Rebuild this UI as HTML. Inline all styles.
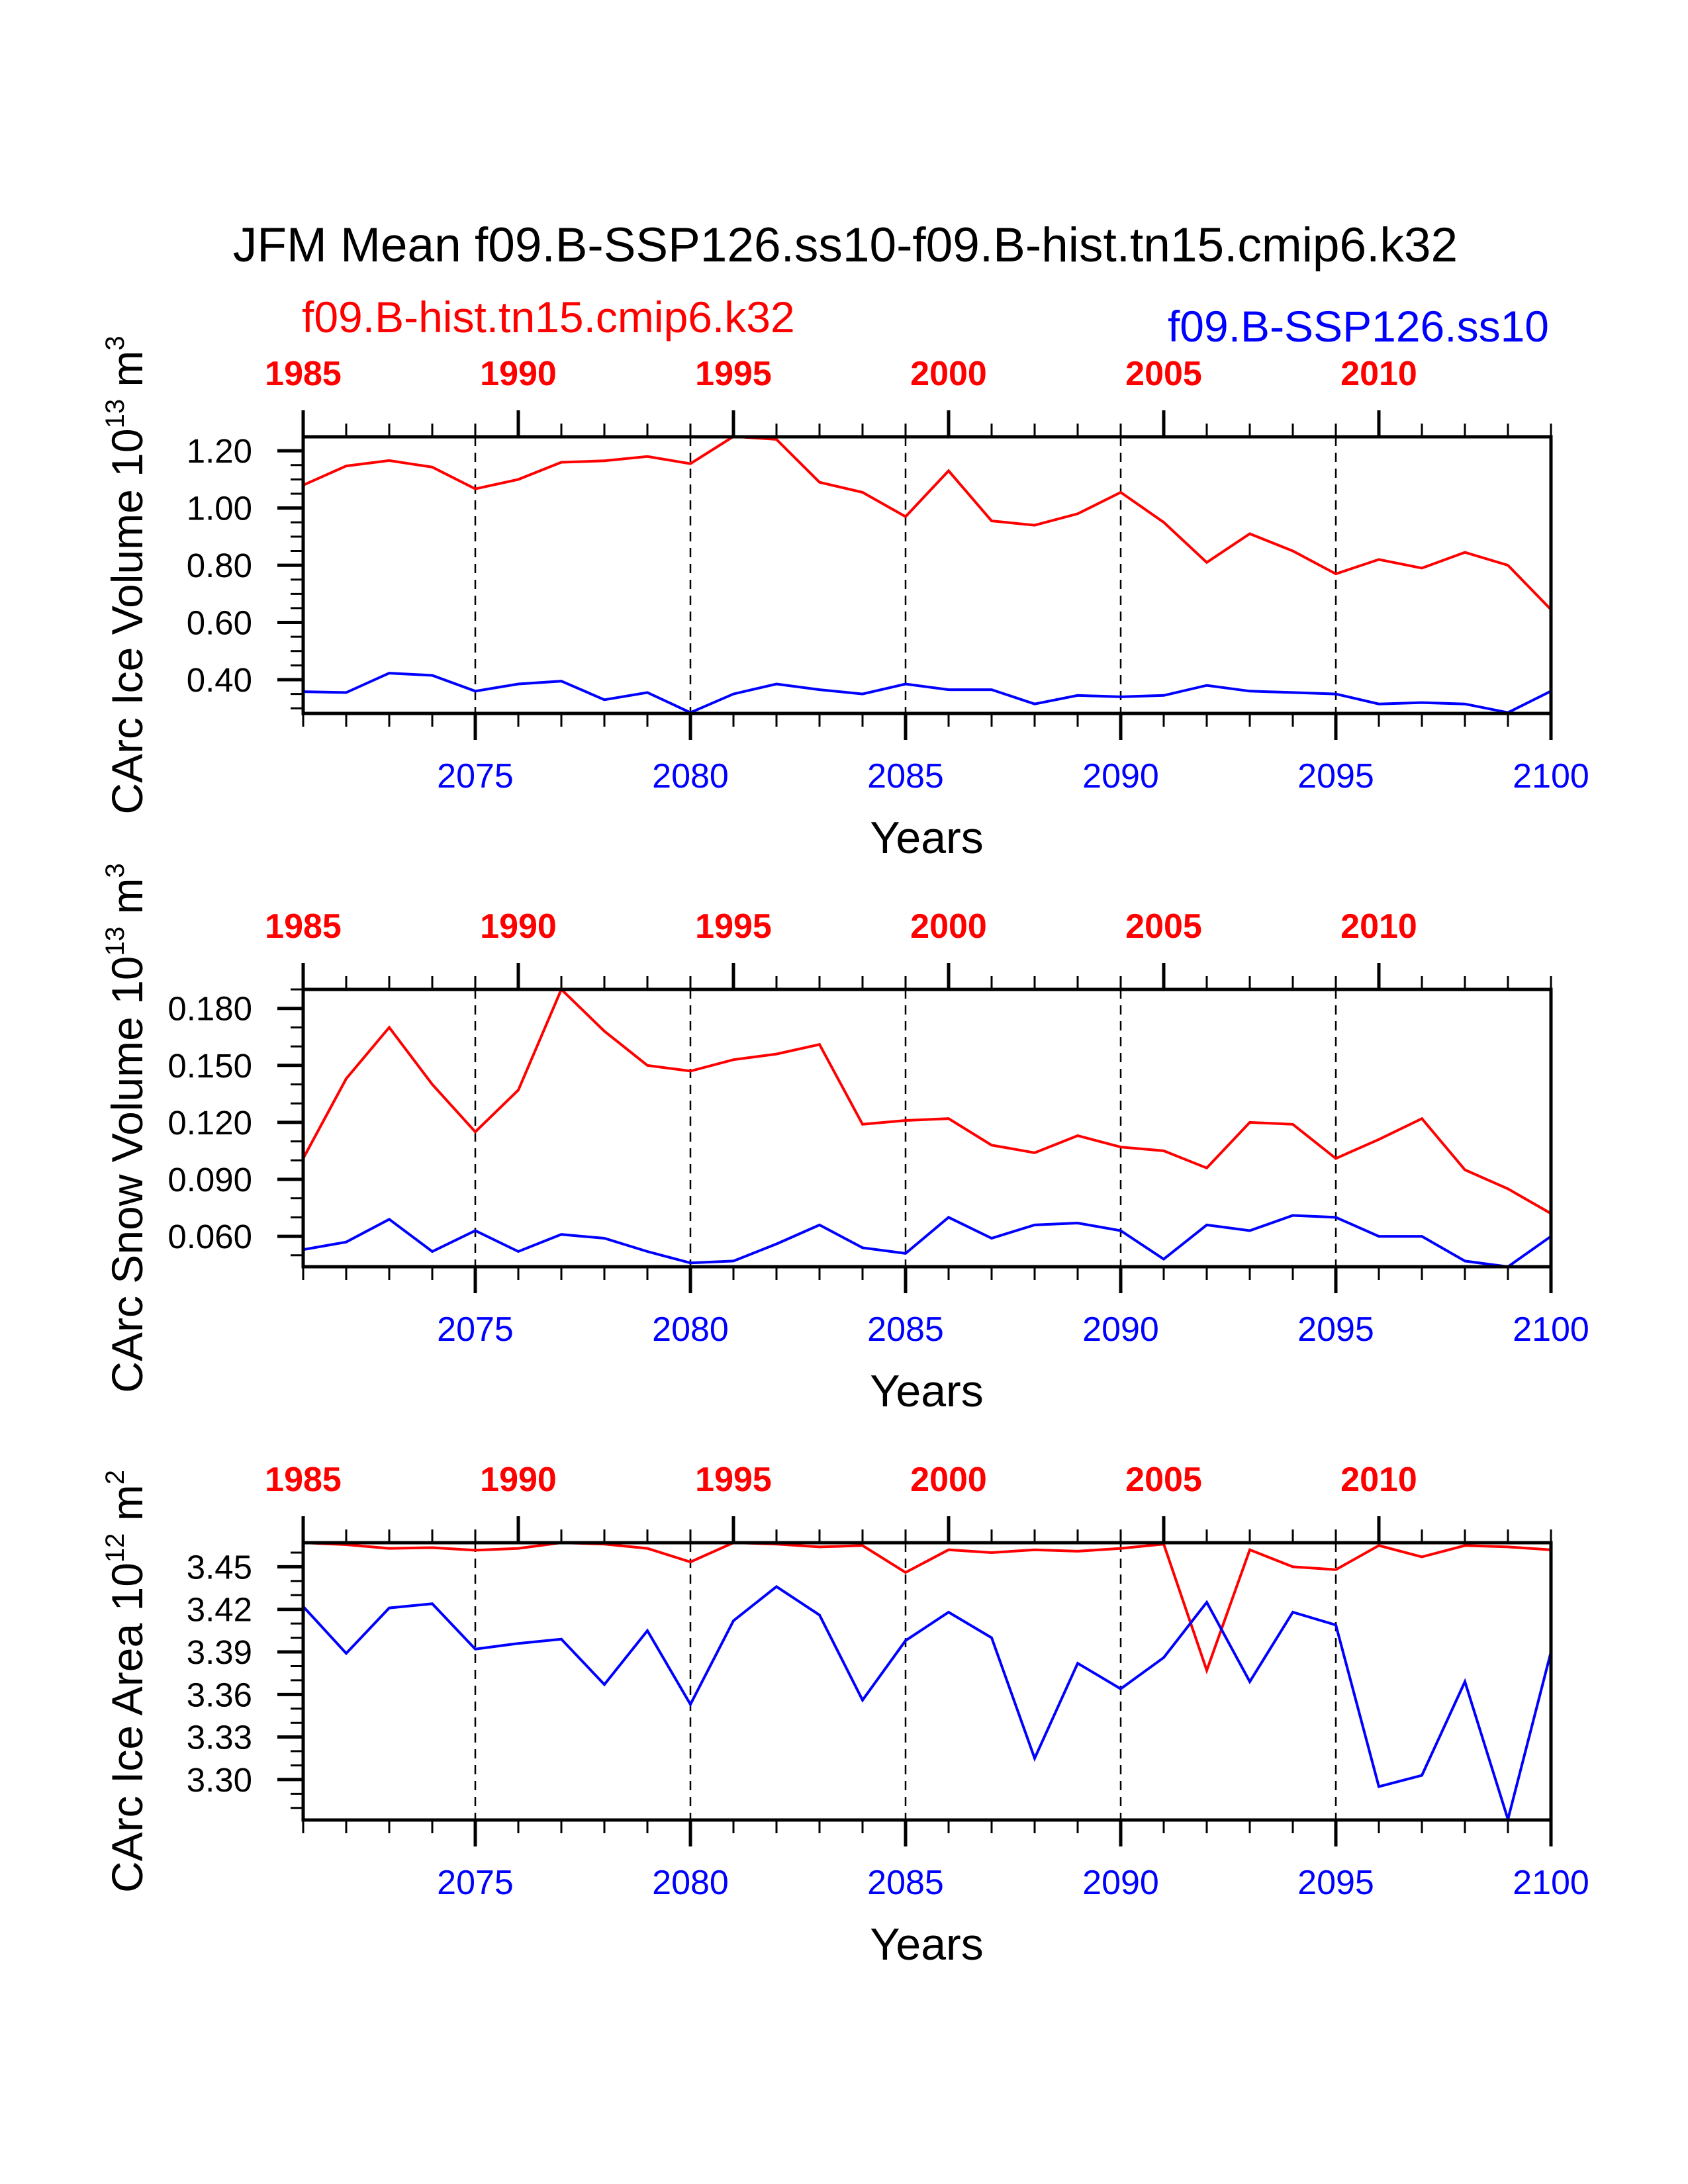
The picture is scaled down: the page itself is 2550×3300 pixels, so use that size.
<!DOCTYPE html>
<html><head><meta charset="utf-8"><style>
html,body{margin:0;padding:0;background:#fff;}
svg{display:block;font-family:"Liberation Sans",sans-serif;}
</style></head><body>
<svg id="chart" width="2550" height="3300" viewBox="0 0 2550 3300" xmlns="http://www.w3.org/2000/svg">
<text x="1277" y="395" font-size="73" text-anchor="middle" fill="#000">JFM Mean f09.B-SSP126.ss10-f09.B-hist.tn15.cmip6.k32</text>
<text x="456" y="502" font-size="66" fill="#ff0000">f09.B-hist.tn15.cmip6.k32</text>
<text x="2340" y="516" font-size="66" text-anchor="end" fill="#0000ff">f09.B-SSP126.ss10</text>
</svg>
<script>
const years = [2071,2072,2073,2074,2075,2076,2077,2078,2079,2080,2081,2082,2083,2084,2085,2086,2087,2088,2089,2090,2091,2092,2093,2094,2095,2096,2097,2098,2099,2100];
const histYears = [1985,1986,1987,1988,1989,1990,1991,1992,1993,1994,1995,1996,1997,1998,1999,2000,2001,2002,2003,2004,2005,2006,2007,2008,2009,2010,2011,2012,2013,2014];
const bottomTicks = [2075,2080,2085,2090,2095,2100];
const topTicks = [1985,1990,1995,2000,2005,2010];

const iceVolHist = [1.08,1.147,1.166,1.143,1.067,1.10,1.16,1.165,1.18,1.155,1.25,1.24,1.09,1.055,0.97,1.13,0.955,0.94,0.98,1.055,0.95,0.81,0.91,0.85,0.77,0.82,0.79,0.845,0.80,0.645];
const iceVolSsp = [0.358,0.355,0.423,0.415,0.36,0.385,0.395,0.33,0.355,0.285,0.35,0.385,0.365,0.35,0.385,0.365,0.365,0.315,0.345,0.34,0.345,0.38,0.36,0.355,0.35,0.315,0.32,0.315,0.285,0.36];
const iceVolTicks = [0.40,0.60,0.80,1.00,1.20];

const snowVolHist = [0.101,0.143,0.170,0.140,0.115,0.137,0.190,0.168,0.150,0.147,0.153,0.156,0.161,0.119,0.121,0.122,0.108,0.104,0.113,0.107,0.105,0.096,0.120,0.119,0.101,0.111,0.122,0.095,0.085,0.072];
const snowVolSsp = [0.053,0.057,0.069,0.052,0.063,0.052,0.061,0.059,0.052,0.046,0.047,0.056,0.066,0.054,0.051,0.070,0.059,0.066,0.067,0.063,0.048,0.066,0.063,0.071,0.070,0.060,0.060,0.047,0.044,0.060];
const snowVolTicks = [0.060,0.090,0.120,0.150,0.180];

const iceAreaHist = [3.467,3.4656,3.463,3.4635,3.4617,3.463,3.467,3.466,3.463,3.4534,3.467,3.466,3.464,3.465,3.446,3.462,3.460,3.462,3.461,3.463,3.466,3.377,3.462,3.450,3.448,3.465,3.457,3.465,3.464,3.462];
const iceAreaSsp = [3.422,3.389,3.421,3.424,3.392,3.396,3.399,3.367,3.405,3.353,3.412,3.436,3.416,3.356,3.398,3.418,3.400,3.315,3.382,3.364,3.386,3.425,3.369,3.418,3.409,3.295,3.303,3.369,3.272,3.390];
const iceAreaTicks = [3.30,3.33,3.36,3.39,3.42,3.45];

const NS="http://www.w3.org/2000/svg";
const svg=document.getElementById('chart');
function mk(tag,attrs,parent){const e=document.createElementNS(NS,tag);for(const k in attrs)e.setAttribute(k,attrs[k]);(parent||svg).appendChild(e);return e;}

const X0=458,X1=2343;
function xScale(y){return X0+(y-years[0])*(X1-X0)/(years[years.length-1]-years[0]);}

const panels=[
 {name:'ice-volume',top:660,bot:1078,ymin:0.282,ymax:1.249,minor:0.05,ticks:iceVolTicks,dec:2,hist:iceVolHist,ssp:iceVolSsp,title:['CArc Ice Volume 10','13',' m','3']},
 {name:'snow-volume',top:1495,bot:1914,ymin:0.044,ymax:0.190,minor:0.01,ticks:snowVolTicks,dec:3,hist:snowVolHist,ssp:snowVolSsp,title:['CArc Snow Volume 10','13',' m','3']},
 {name:'ice-area',top:2331,bot:2750,ymin:3.2715,ymax:3.467,minor:0.01,ticks:iceAreaTicks,dec:2,hist:iceAreaHist,ssp:iceAreaSsp,title:['CArc Ice Area 10','12',' m','2']}
];

panels.forEach(p=>{
 const g=mk('g',{});
 
 
 const yS=v=>p.bot-(v-p.ymin)*(p.bot-p.top)/(p.ymax-p.ymin);
 bottomTicks.forEach(t=>{ if(t>=2100) return;
  const l=mk('line',{x1:xScale(t),x2:xScale(t),y1:p.top,y2:p.bot,stroke:'#000','stroke-width':2.5,'stroke-dasharray':'14,10'},g);
  
  
 });
 years.forEach(y=>{const major=bottomTicks.includes(y);
  const l=mk('line',{x1:xScale(y),x2:xScale(y),y1:p.bot,y2:p.bot+(major?40:20),stroke:'#000','stroke-width':major?5:3},g);
  
  
 });
 bottomTicks.forEach(t=>{
  const tx=mk('text',{x:xScale(t),y:p.bot+112,'font-size':52,'text-anchor':'middle',fill:'#0000ff'},g);
  tx.textContent=t;
  
  
 });
 histYears.forEach((y,i)=>{const major=topTicks.includes(y);
  const xx=xScale(years[i]);
  const l=mk('line',{x1:xx,x2:xx,y1:p.top,y2:p.top-(major?40:20),stroke:'#000','stroke-width':major?5:3},g);
  
  
 });
 topTicks.forEach(t=>{
  const tx=mk('text',{x:xScale(years[0]+(t-histYears[0])),y:p.top-78,'font-size':52,'font-weight':'bold','text-anchor':'middle',fill:'#ff0000'},g);
  tx.textContent=t;
  
  
 });
 const start=Math.ceil(p.ymin/p.minor-1e-6);
 for(let k=start;k*p.minor<=p.ymax+1e-9;k++){const v=k*p.minor;
  const major=p.ticks.some(t=>Math.abs(t-v)<1e-6);
  const l=mk('line',{x1:X0,x2:X0-(major?39:19),y1:yS(v),y2:yS(v),stroke:'#000','stroke-width':major?5:3},g);
  
  
 }
 p.ticks.forEach(t=>{
  const tx=mk('text',{x:381,y:yS(t)+18,'font-size':51,'text-anchor':'end',fill:'#000'},g);
  tx.textContent=t.toFixed(p.dec);
  
  
 });
 const clipId='clip-'+p.name;
 const cp=mk('clipPath',{id:clipId},g);
 mk('rect',{x:X0,y:p.top-3,width:X1-X0,height:p.bot-p.top+6},cp);
 const mkLine=(arr,color,nm)=>{
  const pts=arr.map((v,i)=>xScale(years[i]).toFixed(1)+','+yS(v).toFixed(1)).join(' ');
  const pl=mk('polyline',{points:pts,fill:'none',stroke:color,'stroke-width':4,'stroke-linejoin':'miter','clip-path':'url(#'+clipId+')'},g);
  
  
 };
 mkLine(p.hist,'#ff0000',p.name+'-hist-line');
 mkLine(p.ssp,'#0000ff',p.name+'-ssp-line');
 const fr=mk('rect',{x:X0,y:p.top,width:X1-X0,height:p.bot-p.top,fill:'none',stroke:'#000','stroke-width':5},g);
 
 
 const xt=mk('text',{x:1400,y:p.bot+211,'font-size':68,'text-anchor':'middle',fill:'#000'},g);
 xt.textContent='Years';
 
 
 const cy=(p.top+p.bot)/2;
 const yt=mk('text',{x:0,y:0,'font-size':66,'text-anchor':'middle',fill:'#000',transform:'translate(215,'+cy+') rotate(-90)'},g);
 
 
 const s1=mk('tspan',{},yt);s1.textContent=p.title[0];
 const s2=mk('tspan',{dy:-28,'font-size':40},yt);s2.textContent=p.title[1];
 const s3=mk('tspan',{dy:28},yt);s3.textContent=p.title[2];
 const s4=mk('tspan',{dy:-28,'font-size':40},yt);s4.textContent=p.title[3];
});
</script>
</body></html>
